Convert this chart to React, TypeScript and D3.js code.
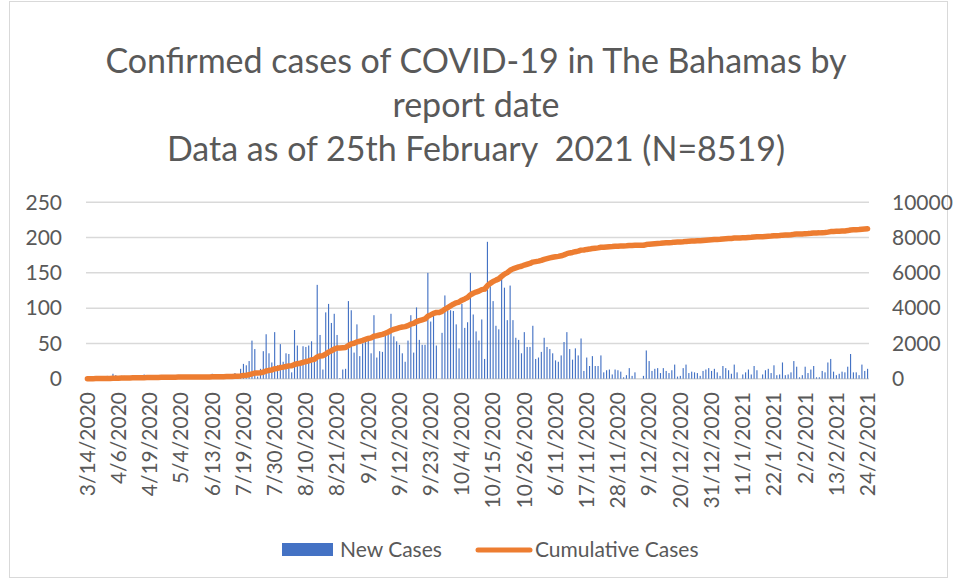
import React from "react";
import * as d3 from "d3";

// daily new cases by report date
const newCases = [
  1, 1, 2, 1, 1, 3, 2, 4, 2, 7, 5,
  3, 4, 4, 1, 2, 5, 2, 1, 3, 6, 3,
  3, 2, 1, 4, 3, 2, 3, 1, 4, 2, 3,
  1, 2, 1, 0, 2, 1, 1, 0, 2, 1, 1,
  7, 1, 0, 3, 2, 5, 4, 6, 8, 6,
  14, 21, 19, 25, 54, 42, 3, 14, 39, 63,
  36, 23, 66, 19, 49, 24, 36, 35, 9, 69,
  47, 24, 46, 45, 47, 53, 31, 133, 62, 13,
  94, 106, 79, 92, 62, 1, 13, 14,
  110, 97, 37, 77, 32, 50, 55, 56, 36, 90,
  30, 39, 38, 64, 62, 92, 60, 53, 48, 36,
  24, 54, 90, 37, 101, 55, 48, 48, 150, 81,
  89, 47, 0, 65, 118, 97, 97,
  96, 77, 43, 106, 72, 80, 150, 91, 67, 54,
  84, 28, 194, 131, 110, 75, 70, 144, 129, 83,
  132, 83, 58, 55, 36, 66,
  45, 45, 75, 28, 30, 38, 58, 45, 42, 36, 26, 24, 33,
  52, 66, 42, 27, 43, 33, 57, 11, 30, 18,
  32, 18, 18, 33, 9, 12, 13, 6, 13, 12,
  10, 2, 5, 15, 4, 9, 0, 0, 4, 40,
  25, 11, 14, 15, 8, 15, 11, 8, 12, 20,
  3, 4, 15, 20, 8, 10, 9, 8, 4, 11, 13, 15,
  11, 14, 9, 4, 18, 15, 12, 7, 20, 9,
  0, 6, 9, 13, 6, 18, 12, 0, 6, 12,
  14, 8, 19, 5, 6, 23, 5, 6, 9, 25,
  17, 2, 5, 17, 8, 13, 18, 2, 2, 11,
  9, 23, 28, 10, 5, 7, 10, 9, 17, 35,
  9, 9, 5, 20, 11, 14,
];

// every 11th category gets a label, as in the original
const tickLabels = [
  "3/14/2020", "4/6/2020", "4/19/2020", "5/4/2020", "6/13/2020", "7/19/2020",
  "7/30/2020", "8/10/2020", "8/21/2020", "9/1/2020", "9/12/2020", "9/23/2020",
  "10/4/2020", "10/15/2020", "10/26/2020", "6/11/2020", "17/11/2020", "28/11/2020",
  "9/12/2020", "20/12/2020", "31/12/2020", "11/1/2021", "22/1/2021", "2/2/2021",
  "13/2/2021", "24/2/2021",
];
const labelStep = 11;

const leftTicks = [0, 50, 100, 150, 200, 250];
const rightTicks = [0, 2000, 4000, 6000, 8000, 10000];

const titleLines = [
  "Confirmed cases of COVID-19 in The Bahamas by",
  "report date",
  "Data as of 25th February  2021 (N=8519)",
];

const font = "Lato, 'Noto Sans', sans-serif";
const textColor = "#595959";
const gridColor = "#d9d9d9";
const blue = "#4472C4";
const orange = "#ED7D31";

export default function App() {
  const width = 957;
  const height = 581;
  const plotLeft = 86;
  const plotRight = 869;
  const plotTop = 202.3;
  const plotBottom = 378.7;

  const x = d3
    .scaleBand<number>()
    .domain(d3.range(newCases.length))
    .range([plotLeft, plotRight])
    .paddingInner(0.6)
    .paddingOuter(0.3);
  const yLeft = d3.scaleLinear().domain([0, 250]).range([plotBottom, plotTop]);
  const yRight = d3.scaleLinear().domain([0, 10000]).range([plotBottom, plotTop]);

  const cumulative = Array.from(d3.cumsum(newCases));
  const center = (i: number) => (x(i) as number) + x.bandwidth() / 2;
  const linePath = d3
    .line<number>()
    .x((_, i) => center(i))
    .y((d) => yRight(d))(cumulative);

  return (
    <svg
      width={width}
      height={height}
      style={{ position: "absolute", left: 0, top: 0, background: "#fff" }}
      fontFamily={font}
    >
      <rect x={9.5} y={1.5} width={938} height={576} fill="#fff" stroke={gridColor} />

      {titleLines.map((t, i) => (
        <text
          key={i}
          x={476}
          y={73 + i * 44}
          textAnchor="middle"
          fontSize={34}
          fill={textColor}
          style={{ whiteSpace: "pre" }}
        >
          {t}
        </text>
      ))}

      {leftTicks.map((t) => (
        <g key={`g${t}`}>
          <line
            x1={plotLeft}
            x2={plotRight}
            y1={yLeft(t)}
            y2={yLeft(t)}
            stroke={gridColor}
            strokeWidth={1.5}
          />
          <text
            x={62}
            y={yLeft(t)}
            dy="0.35em"
            textAnchor="end"
            fontSize={21}
            fill={textColor}
          >
            {t}
          </text>
        </g>
      ))}

      {rightTicks.map((t) => (
        <text
          key={`r${t}`}
          x={892}
          y={yRight(t)}
          dy="0.35em"
          fontSize={21}
          fill={textColor}
        >
          {t}
        </text>
      ))}

      {newCases.map((v, i) => (
        <rect
          key={i}
          x={x(i)}
          y={yLeft(v)}
          width={x.bandwidth()}
          height={plotBottom - yLeft(v)}
          fill={blue}
        />
      ))}

      <path
        d={linePath ?? ""}
        fill="none"
        stroke={orange}
        strokeWidth={5.5}
        strokeLinecap="round"
        strokeLinejoin="round"
      />

      {tickLabels.map((label, k) => {
        const cx = center(k * labelStep);
        const ty = 392;
        return (
          <text
            key={label + k}
            transform={`translate(${cx},${ty}) rotate(-90)`}
            dy="0.35em"
            textAnchor="end"
            fontSize={21}
            fill={textColor}
          >
            {label}
          </text>
        );
      })}

      <g fontSize={21} fill={textColor}>
        <rect x={282} y={543} width={51} height={13} fill={blue} />
        <text x={340} y={549.5} dy="0.35em">
          New Cases
        </text>
        <line
          x1={478}
          x2={530}
          y1={550}
          y2={550}
          stroke={orange}
          strokeWidth={5}
          strokeLinecap="round"
        />
        <text x={535} y={549.5} dy="0.35em">
          Cumulative Cases
        </text>
      </g>
    </svg>
  );
}
